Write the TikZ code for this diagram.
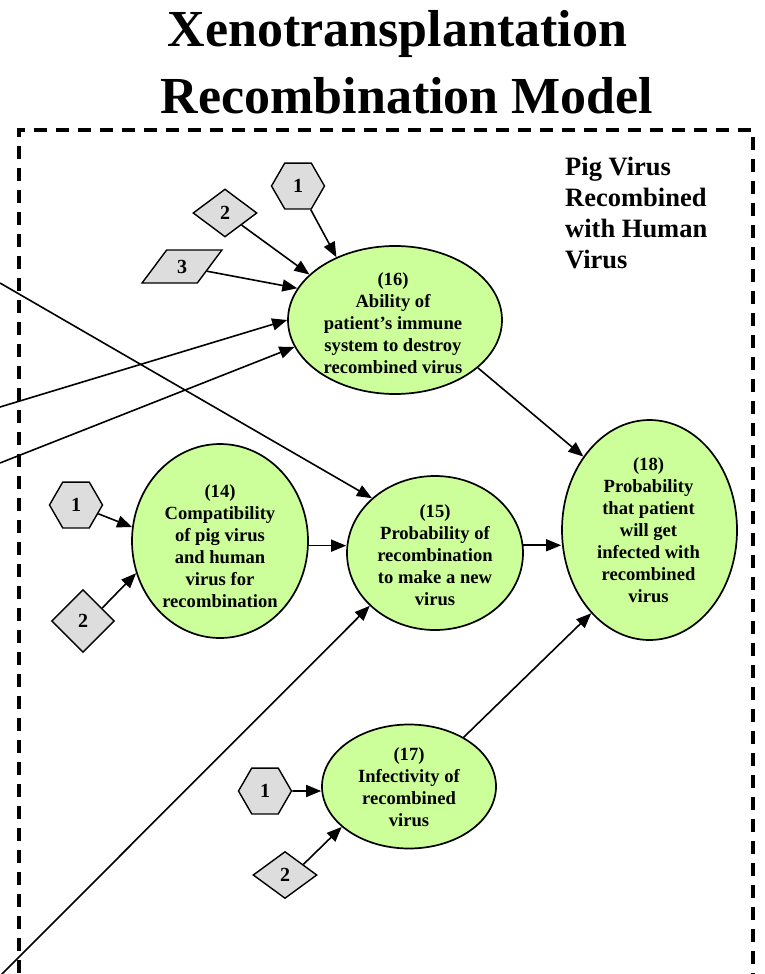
\documentclass[tikz,border=0pt]{standalone}
\usepackage{fontspec}
\setmainfont{Liberation Serif}
\usetikzlibrary{shapes.geometric,arrows.meta}
\definecolor{nodegreen}{HTML}{CCFF99}
\definecolor{taggray}{HTML}{DDDDDD}
\newcommand{\titlefnt}{\fontsize{52}{60}\selectfont\bfseries}
\newcommand{\bodyfnt}{\fontsize{18.6}{22}\selectfont\bfseries}
\newcommand{\tagfnt}{\fontsize{20}{24}\selectfont\bfseries}
\newcommand{\grpfnt}{\fontsize{26.5}{31.3}\selectfont\bfseries}

\begin{document}
\begin{tikzpicture}[x=1pt,y=-1pt,
  ell/.style={ellipse, draw, line width=1.7pt, fill=nodegreen, inner sep=0pt},
  elltext/.style={inner sep=0pt, align=center, font=\bodyfnt},
  hexa/.style={regular polygon, regular polygon sides=6, minimum size=53pt,
    draw, line width=1.4pt, fill=taggray, inner sep=0pt, font=\tagfnt},
  diam/.style={diamond, draw, line width=1.4pt, fill=taggray, inner sep=0pt, font=\tagfnt},
  para/.style={trapezium, trapezium left angle=59, trapezium right angle=121,
    trapezium stretches=true, minimum width=80pt, minimum height=33pt,
    draw, line width=1.4pt, fill=taggray, inner sep=0pt, font=\tagfnt},
  arr/.style={line width=1.6pt, -{Triangle[length=15pt,width=12pt]}},
  frame/.style={line width=3.2pt, dash pattern=on 13pt off 9pt}
]
\useasboundingbox (0,0) rectangle (765,974);
\clip (0,0) rectangle (765,974);

% title
\node[font=\titlefnt, anchor=base, inner sep=0pt] (title1) at (397.5,47) {Xenotransplantation};
\node[font=\titlefnt, anchor=base, inner sep=0pt] (title2) at (407,113) {Recombination Model};

% dashed group frame (open at the bottom edge of the page)
\draw[frame] (19,995) -- (19,130) -- (753,130) -- (753,995);
\node[font=\grpfnt, align=left, anchor=west, inner sep=0pt] (grouplabel) at (565,213)
  {Pig Virus\\Recombined\\with Human\\Virus};

% model variables
\node[ell, minimum width=214pt, minimum height=148pt] (e16) at (395,320) {};
\node[elltext] (t16) at (393,323.5) {(16)\\Ability of\\patient's immune\\system to destroy\\recombined virus};

\node[ell, minimum width=176pt, minimum height=194pt] (e14) at (220,541) {};
\node[elltext] (t14) at (220,546.5) {(14)\\Compatibility\\of pig virus\\and human\\virus for\\recombination};

\node[ell, minimum width=176pt, minimum height=154pt] (e15) at (435,553) {};
\node[elltext] (t15) at (435,555) {(15)\\Probability of\\recombination\\to make a new\\virus};

\node[ell, minimum width=175pt, minimum height=220pt] (e18) at (649.5,530) {};
\node[elltext] (t18) at (648.5,530.5) {(18)\\Probability\\that patient\\will get\\infected with\\recombined\\virus};

\node[ell, minimum width=174pt, minimum height=124pt] (e17) at (409,786.5) {};
\node[elltext] (t17) at (409,787.5) {(17)\\Infectivity of\\recombined\\virus};

% input tags
\node[hexa] (h1a) at (298,186) {1};
\node[diam, minimum width=64pt, minimum height=48pt] (d2a) at (225,213) {2};
\node[para] (p3a) at (182,266.5) {3};

\node[hexa] (h1b) at (76,505) {1};
\node[diam, minimum width=63pt, minimum height=63pt] (d2b) at (83,621) {2};

\node[hexa] (h1c) at (265,791) {1};
\node[diam, minimum width=64pt, minimum height=47pt] (d2c) at (285,875) {2};

% links entering from outside the frame
\coordinate (la) at (0,283);
\coordinate (lb) at (0,407);
\coordinate (lc) at (0,463);
\coordinate (ld) at (0,976);

% connectors
\draw[arr] (h1a) -- (e16.133);
\draw[arr] (d2a) -- (e16.152);
\draw[arr] (p3a) -- (e16.162);
\draw[arr] (la) -- (e15.139);
\draw[arr] (lb) -- (e16.180);
\draw[arr] (lc) -- (e16.195);
\draw[arr] (ld) -- (e15.219);
\draw[arr] (e14.-3) -- (e14.-3 -| e15.west);
\draw[arr] (e15.5) -- (e15.5 -| e18.west);
\draw[arr] (e16.-30) -- (e18.132);
\draw[arr] (e17.42) -- (e18.235);
\draw[arr] (h1b) -- (e14.171);
\draw[arr] (d2b.34) -- (e14.201);
\draw[arr] (h1c) -- (h1c -| e17.west);
\draw[arr] (d2c.30) -- (e17.211);
\end{tikzpicture}
\end{document}
